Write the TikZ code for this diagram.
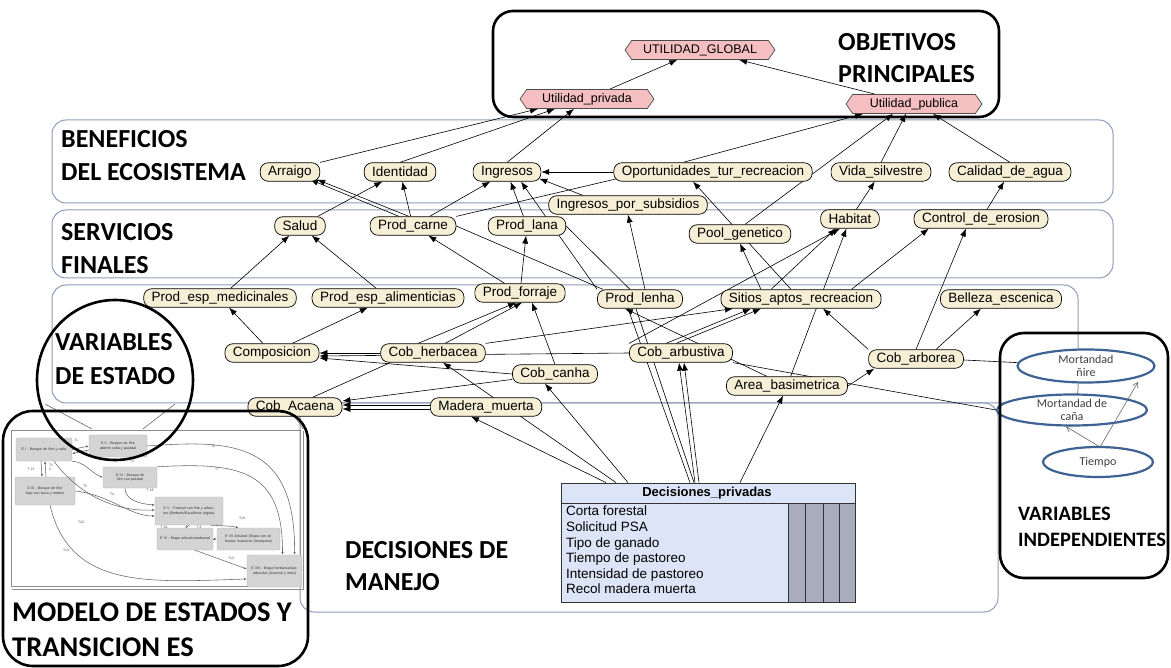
\documentclass[tikz,border=0pt]{standalone}
\usepackage{fontspec}
\setmainfont{Liberation Sans}
\newfontfamily\headfont{Carlito}
\usetikzlibrary{arrows.meta,shapes.symbols,shapes.geometric}
\pgfdeclarelayer{bg}
\pgfdeclarelayer{fg}
\pgfsetlayers{bg,main,fg}
\definecolor{beige}{HTML}{F6EED5}
\definecolor{pinkfill}{HTML}{F5BFC1}
\definecolor{bandline}{HTML}{8E9DBA}
\definecolor{ellblue}{HTML}{3E6393}
\definecolor{decfill}{HTML}{DCE5F7}
\definecolor{decgray}{HTML}{A8ACBC}
\definecolor{insetbox}{HTML}{D4D4D4}
\begin{document}
\begin{tikzpicture}[x=1pt,y=-1pt,
  var/.style={draw=black, line width=0.7pt, fill=beige, rounded corners=8pt, minimum height=18.5pt, inner xsep=8pt, inner ysep=0pt, font=\fontsize{13.5}{15}\selectfont},
  hexa/.style={draw=black!70, line width=0.7pt, fill=pinkfill, signal, signal to=east and west, signal pointer angle=110, minimum height=19pt, inner xsep=6pt, inner ysep=1pt, font=\fontsize{12.5}{14}\selectfont},
  ar/.style={-{Latex[length=8pt,width=6pt]}, line width=0.6pt},
  ln/.style={line width=0.6pt},
  band/.style={draw=bandline, line width=1pt, rounded corners=14pt},
  frame/.style={draw=black, line width=2.6pt, rounded corners=24pt},
  head/.style={font=\headfont\bfseries\fontsize{26}{28}\selectfont, anchor=west, inner sep=0pt},
  ell/.style={ellipse, draw=ellblue, line width=2.2pt, fill=white, text=black!75, font=\headfont\fontsize{12}{13}\selectfont, align=center, inner sep=0pt},
  st/.style={draw=gray!60, fill=insetbox, rounded corners=2pt, font=\fontsize{3.6}{4.3}\selectfont, align=center, inner sep=0.5pt, text=black!80},
  tl/.style={font=\fontsize{3.4}{4}\selectfont, inner sep=0pt, text=black!70},
  tr/.style={-{Latex[length=2.6pt,width=2.2pt]}, draw=black!60, line width=0.55pt},
  indep/.style={-{Straight Barb[length=5pt,width=6pt]}, draw=black!60, line width=0.6pt}
]
\path[use as bounding box] (0,0) rectangle (1171,668);
\begin{pgfonlayer}{bg}
\fill[white] (0,0) rectangle (1171,668);
% bands
\draw[band] (52,120) rectangle (1113,203);
\draw[band] (52,210) rectangle (1113,278);
\draw[band] (52,285) rectangle (1078,403);
\draw[band] (300,403) rectangle (998,612);
\end{pgfonlayer}

% ---------- nodes ----------
\node[hexa, minimum width=150pt] (ug) at (700,50) {UTILIDAD\_GLOBAL};
\node[hexa, minimum width=134pt] (upr) at (587,99) {Utilidad\_privada};
\node[hexa, minimum width=136pt] (upu) at (914,104) {Utilidad\_publica};

\node[var] (arr) at (290,172) {Arraigo};
\node[var] (ide) at (400,172) {Identidad};
\node[var] (ing) at (507,172) {Ingresos};
\node[var] (opo) at (713,172) {Oportunidades\_tur\_recreacion};
\node[var] (vid) at (881,172) {Vida\_silvestre};
\node[var] (cal) at (1010,172) {Calidad\_de\_agua};
\node[var] (isub) at (628,205) {Ingresos\_por\_subsidios};

\node[var] (sal) at (300,226) {Salud};
\node[var] (pca) at (413,226) {Prod\_carne};
\node[var] (pla) at (527,226) {Prod\_lana};
\node[var] (poo) at (740,234) {Pool\_genetico};
\node[var] (hab) at (850,219) {Habitat};
\node[var] (con) at (981,219) {Control\_de\_erosion};

\node[var] (pem) at (220,298) {Prod\_esp\_medicinales};
\node[var] (pea) at (388,298) {Prod\_esp\_alimenticias};
\node[var] (pfo) at (520,293) {Prod\_forraje};
\node[var] (ple) at (640,299) {Prod\_lenha};
\node[var] (sit) at (801,299) {Sitios\_aptos\_recreacion};
\node[var] (bel) at (1001,299) {Belleza\_escenica};

\node[var] (com) at (272,353) {Composicion};
\node[var] (che) at (433,353) {Cob\_herbacea};
\node[var] (cca) at (555,374) {Cob\_canha};
\node[var] (carb) at (681,353) {Cob\_arbustiva};
\node[var] (are) at (787,386) {Area\_basimetrica};
\node[var] (cao) at (916,359) {Cob\_arborea};
\node[var] (cac) at (295,407) {Cob\_Acaena};
\node[var] (mad) at (486,407) {Madera\_muerta};

% decision table
\node[draw=black!80, line width=0.8pt, fill=decfill, minimum width=294pt, minimum height=119pt, inner sep=0pt] (dec) at (708,542.5) {};
\fill[decgray] (788,503) rectangle (855,602);
\draw[black!80, line width=0.6pt] (561,503) -- (855,503);
\draw[black!80, line width=0.6pt] (788,503) -- (788,602) (805,503) -- (805,602) (823,503) -- (823,602) (839,503) -- (839,602);
\node[font=\bfseries\fontsize{13}{15}\selectfont, inner sep=0pt] (dech) at (707,493) {Decisiones\_privadas};
\node[anchor=north west, align=left, inner sep=0pt, font=\fontsize{13.5}{15.6}\selectfont] (decl) at (566,506) {Corta forestal\\Solicitud PSA\\Tipo de ganado\\Tiempo de pastoreo\\Intensidad de pastoreo\\Recol madera muerta};

% independent variables
\node[ell, minimum width=137pt, minimum height=33pt] (mn) at (1086,366) {Mortandad\\ñire};
\node[ell, minimum width=150pt, minimum height=31pt] (mc) at (1072,410) {Mortandad de\\caña};
\node[ell, minimum width=110pt, minimum height=30pt] (tie) at (1098,462) {Tiempo};

% ---------- edges ----------
\begin{pgfonlayer}{bg}
\draw[ar] (upr) -- (ug);
\draw[ar] (upu) -- (ug);
\draw[ar] (arr.north east) -- ([xshift=-49pt]upr.south);
\draw[ar] (ide.north) -- ([xshift=-32pt]upr.south);
\draw[ar] (ing.north) -- ([xshift=-13pt]upr.south);
\draw[ar] ([xshift=-30pt]opo.north) -- ([xshift=-51pt]upu.south);
\draw[ar] ([xshift=5pt]poo.north) -- ([xshift=-21pt]upu.south);
\draw[ar] (vid.north) -- ([xshift=-8pt]upu.south);
\draw[ar] (cal.north) -- ([xshift=19pt]upu.south);
\draw[ar] (opo.west) -- (ing.east);
\draw[ar] ([xshift=-45pt]isub.north) -- ([xshift=-2pt,yshift=3pt]ing.south east);
\draw[ar] (ple.north west) -- ([xshift=14pt]ing.south);
\draw[ar] ([xshift=-14pt]pca.north) -- ([xshift=-10pt,yshift=2pt]arr.south east);
\draw[ar] ([xshift=-4pt]pca.north) -- ([xshift=-3pt,yshift=2pt]arr.south east);
\draw[ar] (sal) -- (ide);
\draw[ar] (pca) -- (ide);
\draw[ar] (pca) -- (ing);
\draw[ar] (pla) -- (ing);
\draw[ln] (pca.north east) -- ([xshift=4pt,yshift=3pt]opo.south west);
\draw[ar] (pem) -- (sal);
\draw[ar] (pea) -- (sal);
\draw[ar] (pfo) -- (pca);
\draw[ar] (pfo) -- (pla);
\draw[ln] (pca.east) -- ([xshift=6pt]ple.north west);
\draw[ln] (pla.east) -- ([xshift=-10pt]ple.north);
\draw[ar] ([xshift=5pt]ple.north) -- (isub.south);
\draw[ar] ([xshift=-10pt]sit.north) -- ([xshift=-20pt]opo.south);
\draw[ar] ([xshift=-40pt]sit.north) -- (poo.south);
\draw[ar] ([xshift=-30pt]sit.north) -- ([xshift=-14pt]hab.south);
\draw[ar] (carb.north west) -- ([xshift=-10pt]hab.south);
\draw[ar] (are) -- (hab);
\draw[ar] (hab) -- (vid);
\draw[ar] (con) -- (cal);
\draw[ar] ([xshift=-30pt]sit.north east) -- ([xshift=15pt]con.south west);
\draw[ar] (cao.north) -- ([xshift=-15pt]con.south);
\draw[ar] ([xshift=20pt]cao.north) -- ([xshift=-20pt]bel.south);
\draw[ar] (cao.north west) -- ([xshift=22pt]sit.south);
\draw[ar] (are.east) -- ([xshift=6pt]cao.south west);
\draw[ar] (mn) -- ([xshift=-20pt]cao.east);
\draw[ln] (mc.west) -- (carb.south east);
\draw[ar] ([xshift=-15pt]carb.north) -- ([xshift=-50pt]sit.south);
\draw[ar] ([xshift=-5pt]carb.north) -- ([xshift=-40pt]sit.south);
\draw[ar] ([xshift=-20pt]are.north) -- ([xshift=-15pt]ple.south);
\draw[ar] (che.north east) -- ([xshift=-68pt]sit.south);
\draw[ar] (che) -- (com);
\draw[ar] (carb.west) -- ([yshift=-3pt]com.east);
\draw[ar] (cca.west) -- ([yshift=-5pt]com.east);
\draw[ar] ([xshift=-15pt]che.north) -- ([xshift=-4pt]pfo.south);
\draw[ar] ([xshift=12pt]che.north) -- ([xshift=2pt]pfo.south);
\draw[ar] (cca.north) -- ([xshift=12pt]pfo.south);
\draw[ar] (com) -- (pem);
\draw[ar] (com) -- (pea);
\draw[ln] ([xshift=10pt]che.south west) -- ([xshift=-30pt]cac.north east);
\draw[ar] (cca) -- (cac);
\draw[ar] ([yshift=2pt]mad.west) -- ([yshift=2pt]cac.east);
\draw[ar] ([yshift=-2pt]mad.west) -- ([yshift=-2pt]cac.east);
\draw[ar] ([xshift=-102pt]dec.north) -- ([xshift=-15pt]mad.south);
\draw[ar] ([xshift=-92pt]dec.north) -- ([xshift=10pt]che.south);
\draw[ar] ([xshift=-80pt]dec.north) -- ([xshift=-10pt]cca.south);
\draw[ar] ([xshift=-13pt]dec.north) -- ([xshift=-2pt]carb.south);
\draw[ar] ([xshift=-9pt]dec.north) -- ([xshift=3pt]carb.south);
\draw[ln] ([xshift=-18pt]dec.north) -- ([xshift=-12pt]ple.south);
\draw[ln] ([xshift=-14pt]dec.north) -- ([xshift=-4pt]ple.south);
\draw[ar] ([xshift=32pt]dec.north) -- ([xshift=-4pt]are.south);
% links from state circle to model
\coordinate (k1) at (45,404);
\coordinate (k2) at (92,429);
\coordinate (k3) at (175,404);
\coordinate (k4) at (143,429);
\coordinate (k5) at (303,429);
\draw[ln, black!60] (k1) -- (k2);
\draw[ln, black!60] (k3) -- (k4);
\draw[ln, black!50] (cac.south) -- (k5);
\end{pgfonlayer}
\coordinate (tiea) at (1100,447);
\coordinate (mnb) at (1138,382);
\draw[indep] (tiea) -- ([xshift=-6pt]mc.south);
\draw[indep] (tiea) -- (mnb);

% ---------- inset state model ----------
\draw[black!45, line width=0.7pt] (11,430) rectangle (300,586);
\draw[black!45, line width=0.7pt] (303,431) -- (303,589) -- (12,589);
\node[st, minimum width=56pt, minimum height=23pt, text width=52pt] (s1) at (44,449.5) {E I - Bosque de ñire y caña};
\node[st, minimum width=58pt, minimum height=22pt, text width=54pt] (s2) at (118,446) {E II - Bosque de ñire abierto caña y pastizal};
\node[st, minimum width=54pt, minimum height=21pt, text width=50pt] (s4) at (130,477.5) {E IV - Bosque de ñire con pastizal};
\node[st, minimum width=60pt, minimum height=28pt, text width=56pt] (s3) at (45,491) {E III - Bosque de ñire bajo con laura y retamo};
\node[st, minimum width=68pt, minimum height=28pt, text width=64pt] (s5) at (189,511) {E V - Pastizal con ñire y arbustos (Berberis/Escallonia virgata)};
\node[st, minimum width=56pt, minimum height=22pt, text width=52pt] (s6) at (185,539) {E VI - Etapa arbustiva/arbustal};
\node[st, minimum width=63pt, minimum height=22pt, text width=59pt] (s7) at (248.5,539) {E VII Arbustal (Etapa con arbustos invasores (mosqueta)};
\node[st, minimum width=55pt, minimum height=32pt, text width=51pt] (s8) at (274.5,571) {E VIII - Etapa herbácea/sub-arbustiva (Acaenal y otros)};
\draw[tr] (s1.east) -- (s2.west);
\draw[tr] ([yshift=-4pt]s2.west) -- ([yshift=-4pt]s1.east);
\draw[tr] ([xshift=-3pt]s1.south) -- ([xshift=-3pt]s3.north);
\draw[tr] ([xshift=1pt]s3.north) -- ([xshift=1pt]s1.south);
\draw[tr] (s1.south east) .. controls (85,462) and (90,472) .. (s4.west);
\draw[tr] ([xshift=10pt]s1.south) .. controls (75,490) and (110,512) .. ([yshift=1pt]s5.west);
\draw[tr] (s3.east) .. controls (110,495) and (130,516) .. ([yshift=-5pt]s5.west);
\draw[tr] ([xshift=-5pt]s4.south) .. controls (125,500) and (140,504) .. ([yshift=6pt]s5.west);
\draw[tr] (s2.east) .. controls (230,440) and (296,440) .. ([xshift=20pt]s8.north);
\draw[tr] (s4.north east) .. controls (240,462) and (283,470) .. ([xshift=8pt]s8.north);
\draw[tr] ([xshift=5pt]s3.south) .. controls (70,590) and (150,582) .. ([yshift=-8pt]s8.west);
\draw[tr] (s5.south) -- (s6.north);
\draw[tr] ([xshift=22pt]s5.south) .. controls (226,526) and (232,526) .. ([xshift=-10pt]s7.north);
\draw[tr] (s6.east) -- (s7.west);
\draw[tr] ([xshift=10pt]s6.south) -- ([yshift=2pt]s8.west);
\node[tl] (t1) at (76,440) {T1};
\node[tl] (t11) at (84,452) {T1 1};
\node[tl] (t15) at (31,469) {T 15};
\node[tl, align=left] (t12) at (51,467) {T1\\2};
\node[tl] (t3) at (132,461) {T3};
\node[tl] (t5) at (85,486) {T5};
\node[tl] (t4) at (112,494) {T4};
\node[tl] (t18) at (150,490) {T 18};
\node[tl] (t10) at (81,522) {T10};
\node[tl] (t6) at (213,446) {T6};
\node[tl] (t7) at (217,469) {T7};
\node[tl] (t14) at (66,550) {T14};
\node[tl] (t16) at (164,527) {T 16};
\node[tl] (t8) at (199,527) {T 8};
\node[tl] (t19) at (242,518) {T19};
\node[tl] (t13) at (231,558) {T13};

% ---------- headings ----------
\node[head] (hb1) at (61,139) {BENEFICIOS};
\node[head] (hb2) at (61,172) {DEL ECOSISTEMA};
\node[head] (hs1) at (61,232) {SERVICIOS};
\node[head] (hs2) at (61,265) {FINALES};
\node[head] (hv1) at (55,342) {VARIABLES};
\node[head] (hv2) at (55,376) {DE ESTADO};
\node[head] (ho1) at (838,42) {OBJETIVOS};
\node[head] (ho2) at (838,74) {PRINCIPALES};
\node[head] (hd1) at (345,550) {DECISIONES DE};
\node[head] (hd2) at (345,582) {MANEJO};
\node[head, font=\headfont\bfseries\fontsize{28.5}{30}\selectfont] (hm1) at (12,612) {MODELO DE ESTADOS Y};
\node[head, font=\headfont\bfseries\fontsize{28.5}{30}\selectfont] (hm2) at (12,647) {TRANSICION ES};
\node[head, font=\headfont\bfseries\fontsize{20.5}{23}\selectfont] (hi1) at (1018,514) {VARIABLES};
\node[head, font=\headfont\bfseries\fontsize{20.5}{23}\selectfont] (hi2) at (1018,540) {INDEPENDIENTES};

% ---------- black frames ----------
\begin{pgfonlayer}{fg}
\draw[frame, rounded corners=20pt] (493,11) rectangle (999,117);
\draw[frame, rounded corners=30pt] (3,411) rectangle (308,666);
\draw[frame] (1000,333) rectangle (1168,578);
\draw[draw=black, line width=2.6pt] (115,380) ellipse [x radius=78, y radius=80];
\end{pgfonlayer}
\end{tikzpicture}
\end{document}
